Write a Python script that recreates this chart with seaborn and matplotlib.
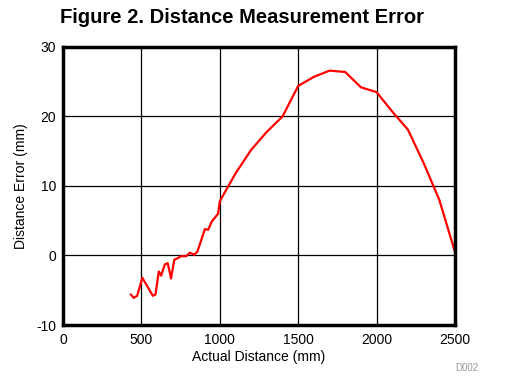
import matplotlib
matplotlib.use("Agg")
import matplotlib.pyplot as plt
import seaborn as sns
import pandas as pd

actual_distance = [432, 451, 473, 506, 542, 573, 590, 611, 626, 649, 668, 689, 710, 731,
                   752, 785, 810, 837, 858, 905, 926, 949, 989, 1000,
                   1100, 1200, 1300, 1400, 1500, 1600, 1700, 1800, 1900, 2000,
                   2100, 2200, 2300, 2400, 2500]
distance_error = [-5.6, -6.1, -5.8, -3.2, -4.6, -5.8, -5.6, -2.3, -2.9, -1.3, -1.1, -3.3, -0.6, -0.4,
                  -0.1, -0.1, 0.4, 0.1, 0.6, 3.8, 3.7, 4.9, 6.0, 7.8,
                  11.8, 15.2, 17.8, 20.0, 24.4, 25.7, 26.6, 26.4, 24.2, 23.5,
                  20.7, 18.1, 13.3, 8.0, 0.5]
x_ticks = [0, 500, 1000, 1500, 2000, 2500]
y_ticks = [-10, 0, 10, 20, 30]

df = pd.DataFrame({"Actual Distance (mm)": actual_distance,
                   "Distance Error (mm)": distance_error})

sns.set_theme(style="white")
plt.rcParams['font.family'] = ['Liberation Sans', 'DejaVu Sans']
plt.rcParams['axes.unicode_minus'] = False
plt.rcParams['text.color'] = 'black'
plt.rcParams['axes.labelcolor'] = 'black'

fig = plt.figure(figsize=(5.15, 3.87), dpi=100)
ax = fig.add_axes([0.1223, 0.1602, 0.7612, 0.7184])
sns.lineplot(data=df, x="Actual Distance (mm)", y="Distance Error (mm)", sort=False,
             color="#ff0000", linewidth=1.6, ax=ax)
ax.set_xlim(0, 2500)
ax.set_ylim(-10, 30)
ax.set_xticks(x_ticks)
ax.set_yticks(y_ticks)
ax.tick_params(axis='x', labelsize=10, colors='black', length=0, pad=6)
ax.tick_params(axis='y', labelsize=10, colors='black', length=0, pad=5)
ax.grid(True, color='black', linewidth=0.9)
for s in ax.spines.values():
    s.set_color('black')
    s.set_linewidth(2.5)
ax.set_xlabel("Actual Distance (mm)", fontsize=10, labelpad=2, color='black')
ax.set_ylabel("Distance Error (mm)", fontsize=10, labelpad=6, color='black')
fig.text(0.470, 0.955, "Figure 2. Distance Measurement Error", ha='center', va='center',
         fontsize=14.5, fontweight='bold', color='black')
fig.text(0.907, 0.05, "D002", ha='center', va='center', fontsize=7, color='#999999')
fig.savefig("out.png", dpi=100, facecolor='white')
